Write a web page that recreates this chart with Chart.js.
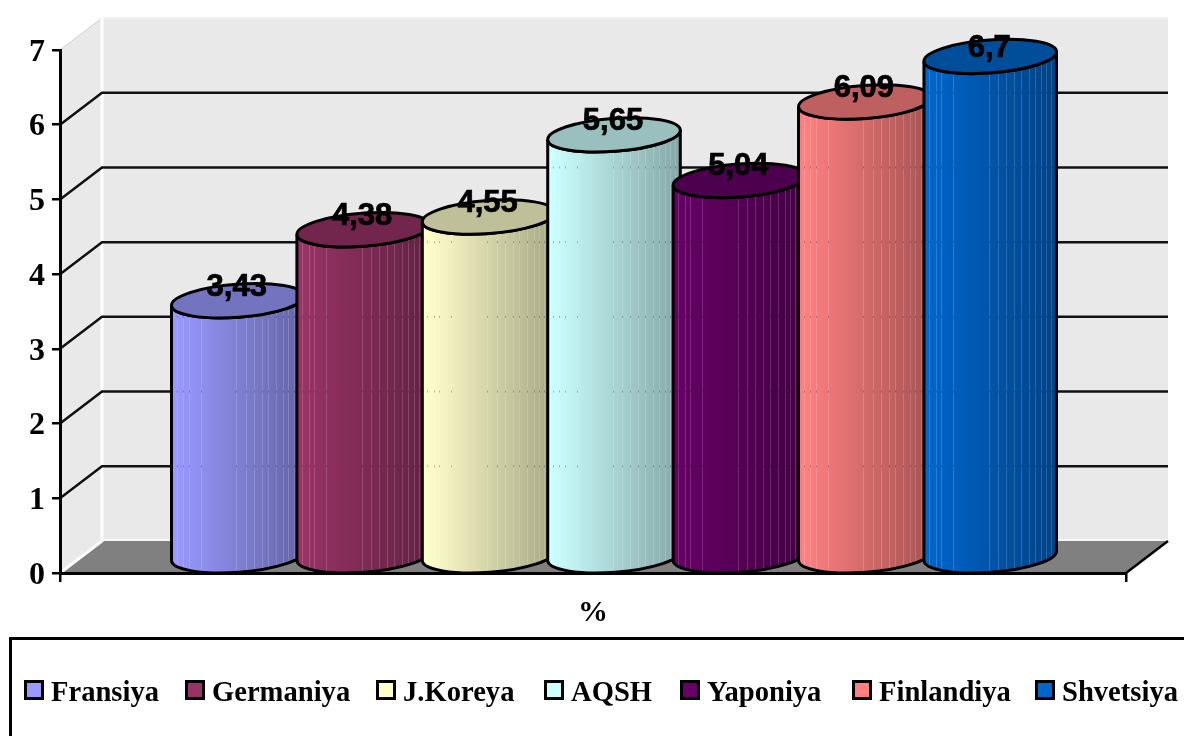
<!DOCTYPE html>
<html>
<head>
<meta charset="utf-8">
<script src="https://cdn.jsdelivr.net/npm/chart.js@4"></script>
<style>
    html, body { margin: 0; padding: 0; background: #fff; overflow: hidden; width: 1184px; height: 736px; }
    #grafico-wrap { position: absolute; left: 0; top: 0; width: 1184px; height: 640px; }
    #legenda {
        position: absolute; left: 9px; top: 637px; width: 1300px; height: 200px;
        border: 3px solid #000; box-sizing: border-box;
    }
    #legenda .item {
        position: absolute; top: 39px; display: flex; align-items: center; height: 22px;
        font: bold 28.6px "Liberation Serif", serif; color: #000; white-space: nowrap;
    }
    #legenda .caixa { width: 20px; height: 20px; box-sizing: border-box; border: 3px solid #000; margin-right: 7px; }
    #legenda .nome { position: relative; top: 2px; }
</style>
</head>
<body>
<div id="grafico-wrap"><canvas id="grafico"></canvas></div>
<div id="legenda"></div>
<script>
const categorias = ['%'];
const paises = ['Fransiya', 'Germaniya', 'J.Koreya', 'AQSH', 'Yaponiya', 'Finlandiya', 'Shvetsiya'];
const valores = [3.43, 4.38, 4.55, 5.65, 5.04, 6.09, 6.7];
const cores = ['#9999FF', '#993366', '#FFFFCC', '#CCFFFF', '#660066', '#FF8080', '#0066CC'];

// fake 3D depth of the box
const DX = 42, DY = 32;
// light facet lines on the cylinders (fraction of width)
const faixas = [0.04, 0.09, 0.13, 0.22, 0.49, 0.56, 0.62, 0.68, 0.73, 0.79, 0.84, 0.88, 0.92, 0.96];
// left edge of each legend entry
const legendaX = [15, 176, 367, 535, 671, 843, 1026];

function escurecer(hex, f) {
    const n = parseInt(hex.slice(1), 16);
    const r = Math.round((n >> 16 & 255) * f), g = Math.round((n >> 8 & 255) * f), b = Math.round((n & 255) * f);
    return `rgb(${r},${g},${b})`;
}

const caixa3d = {
    id: 'caixa3d',
    beforeDraw(chart) {
        const { ctx, chartArea: a, scales: { y } } = chart;
        ctx.save();
        // back wall
        ctx.fillStyle = '#e9e9e9';
        ctx.fillRect(a.left + DX, a.top - DY, a.right - a.left, a.bottom - a.top);
        ctx.strokeStyle = '#f2f2f2';
        ctx.lineWidth = 2;
        ctx.beginPath();
        ctx.moveTo(a.left + DX, a.top - DY);
        ctx.lineTo(a.right + DX, a.top - DY);
        ctx.stroke();
        // side wall
        ctx.beginPath();
        ctx.moveTo(a.left, a.top);
        ctx.lineTo(a.left + DX, a.top - DY);
        ctx.lineTo(a.left + DX, a.bottom - DY);
        ctx.lineTo(a.left, a.bottom);
        ctx.closePath();
        ctx.fillStyle = '#e9e9e9';
        ctx.fill();
        ctx.strokeStyle = '#cfcfcf';
        ctx.lineWidth = 1;
        ctx.beginPath();
        ctx.moveTo(a.left, a.top);
        ctx.lineTo(a.left + DX, a.top - DY);
        ctx.stroke();
        // floor
        ctx.beginPath();
        ctx.moveTo(a.left, a.bottom);
        ctx.lineTo(a.left + DX, a.bottom - DY);
        ctx.lineTo(a.right + DX, a.bottom - DY);
        ctx.lineTo(a.right, a.bottom);
        ctx.closePath();
        ctx.fillStyle = '#808080';
        ctx.fill();
        // white seams
        ctx.strokeStyle = '#fff';
        ctx.lineWidth = 3;
        ctx.beginPath();
        ctx.moveTo(a.left + DX, a.top - DY);
        ctx.lineTo(a.left + DX, a.bottom - DY);
        ctx.lineTo(a.left, a.bottom);
        ctx.stroke();
        ctx.strokeStyle = '#f4f4f4';
        ctx.lineWidth = 2;
        ctx.beginPath();
        ctx.moveTo(a.left + DX, a.bottom - DY - 1);
        ctx.lineTo(a.right + DX, a.bottom - DY - 1);
        ctx.stroke();
        // right floor edge
        ctx.strokeStyle = '#000';
        ctx.lineWidth = 2.5;
        ctx.beginPath();
        ctx.moveTo(a.right, a.bottom);
        ctx.lineTo(a.right + DX, a.bottom - DY);
        ctx.stroke();
        // grid on the walls
        ctx.strokeStyle = '#111';
        ctx.lineWidth = 2.5;
        y.ticks.forEach(t => {
            if (t.value === 0 || t.value === 7) return;
            const py = y.getPixelForValue(t.value);
            ctx.beginPath();
            ctx.moveTo(a.left, py);
            ctx.lineTo(a.left + DX, py - DY);
            ctx.lineTo(a.right + DX, py - DY);
            ctx.stroke();
        });
        ctx.restore();
    },
    afterDatasetsDraw(chart) {
        const { ctx, scales: { y } } = chart;
        const rot = -0.075;
        chart.data.datasets.forEach((ds, i) => {
            const barra = chart.getDatasetMeta(i).data[0];
            const rx = barra.width / 2, ry = 16.5;
            const cx = barra.x + DX / 2;
            const topo = barra.y - DY / 2;
            const base = barra.base - DY / 2;
            const tx = rx * Math.cos(rot);

            const corpo = () => {
                ctx.beginPath();
                ctx.ellipse(cx, base, rx, ry, rot, 0, Math.PI);
                ctx.lineTo(cx - tx, topo + rx * Math.sin(-rot));
                ctx.ellipse(cx, topo, rx, ry, rot, Math.PI, 0, true);
                ctx.closePath();
            };

            ctx.save();
            const grad = ctx.createLinearGradient(cx - rx, 0, cx + rx, 0);
            grad.addColorStop(0.03, cores[i]);
            grad.addColorStop(1, escurecer(cores[i], 0.65));
            corpo();
            ctx.fillStyle = grad;
            ctx.fill();

            // facets
            ctx.save();
            corpo();
            ctx.clip();
            faixas.forEach(f => {
                const fx = Math.round(cx - rx + f * 2 * rx) + 0.5;
                ctx.strokeStyle = 'rgba(255,255,255,0.17)';
                ctx.lineWidth = 1;
                ctx.beginPath();
                ctx.moveTo(fx, topo - ry);
                ctx.lineTo(fx, base + ry);
                ctx.stroke();
                // grid lines showing through the facets
                ctx.fillStyle = 'rgba(0,0,0,0.28)';
                y.ticks.forEach(t => {
                    if (t.value === 0 || t.value === 7) return;
                    ctx.fillRect(fx - 0.5, y.getPixelForValue(t.value) - DY - 1, 1, 2);
                });
            });
            ctx.restore();

            ctx.strokeStyle = '#000';
            ctx.lineWidth = 3;
            corpo();
            ctx.stroke();

            ctx.beginPath();
            ctx.ellipse(cx, topo, rx, ry, rot, 0, Math.PI * 2);
            ctx.fillStyle = escurecer(cores[i], 0.75);
            ctx.fill();
            ctx.stroke();
            ctx.restore();
        });

        // value labels go on top of every cylinder
        ctx.save();
        ctx.font = 'bold 31px "Liberation Sans", Arial, sans-serif';
        ctx.fillStyle = '#000';
        ctx.strokeStyle = '#000';
        ctx.lineWidth = 0.7;
        ctx.textAlign = 'center';
        ctx.textBaseline = 'alphabetic';
        chart.data.datasets.forEach((ds, i) => {
            const barra = chart.getDatasetMeta(i).data[0];
            const base = Math.max(barra.y - DY / 2 - 5, 57);
            const txt = String(ds.data[0]).replace('.', ',');
            ctx.fillText(txt, barra.x + DX / 2 - 1, base);
            ctx.strokeText(txt, barra.x + DX / 2 - 1, base);
        });
        ctx.restore();
    }
};

new Chart(document.getElementById('grafico'), {
    type: 'bar',
    data: {
        labels: categorias,
        datasets: paises.map((nome, i) => ({
            label: nome,
            data: [valores[i]],
            backgroundColor: 'rgba(0,0,0,0)'
        }))
    },
    options: {
        responsive: true,
        maintainAspectRatio: false,
        animation: false,
        categoryPercentage: 0.8235,
        barPercentage: 1.06,
        layout: { padding: { top: 50, right: 58, bottom: 7, left: 0 } },
        plugins: { legend: { display: false }, tooltip: { enabled: false } },
        scales: {
            x: {
                afterFit: s => { s.height = 60; },
                border: { color: '#000', width: 3 },
                grid: { drawOnChartArea: false, offset: true, color: '#000', lineWidth: 2.5, tickLength: 9 },
                ticks: { color: '#000', padding: 13, font: { family: '"Liberation Serif", serif', weight: 'bold', size: 30 } }
            },
            y: {
                min: 0,
                max: 7,
                afterFit: s => { s.width = 60; },
                border: { color: '#000', width: 3 },
                grid: { drawOnChartArea: false, color: '#000', lineWidth: 2.5, tickLength: 8 },
                // blank first line + small lineHeight nudges the digits down onto the tick
                ticks: {
                    stepSize: 1, color: '#000', padding: 7,
                    callback: v => ['', String(v)],
                    font: { family: '"Liberation Serif", serif', weight: 'bold', size: 32, lineHeight: '5px' }
                }
            }
        }
    },
    plugins: [caixa3d]
});

// legend is plain html so the box/text gaps can follow the picture
const legenda = document.getElementById('legenda');
paises.forEach((nome, i) => {
    const item = document.createElement('div');
    item.className = 'item';
    item.style.left = legendaX[i] - 3 + 'px';
    item.innerHTML = `<span class="caixa" style="background:${cores[i]}"></span><span class="nome">${nome}</span>`;
    legenda.appendChild(item);
});
</script>
</body>
</html>
